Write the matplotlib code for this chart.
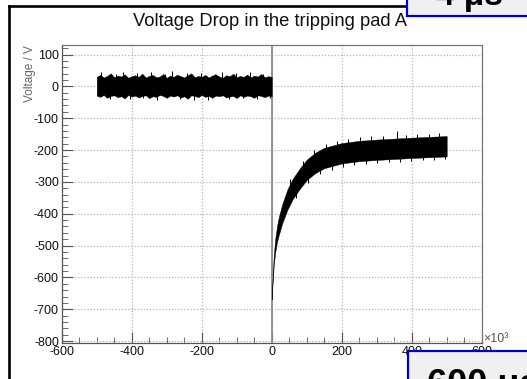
import matplotlib
matplotlib.use("Agg")
import matplotlib.pyplot as plt
import numpy as np
from matplotlib.patches import Rectangle
from matplotlib.lines import Line2D
from matplotlib.ticker import MultipleLocator

plt.rcParams['font.family'] = ['Liberation Sans', 'DejaVu Sans']
plt.rcParams['axes.unicode_minus'] = False

# time in units of 10^3, voltage in V
# before the trip: noisy baseline around 0 V, envelope every 10 units
pre_t = list(range(-500, 1, 10))
pre_hi = [30, 36, 28, 33, 41, 29, 34, 31, 38, 27, 32, 35, 30, 40, 28, 33, 36, 29, 31, 39,
          27, 34, 30, 37, 32, 28, 35, 41, 29, 33, 30, 36, 28, 34, 38, 31, 27, 35, 32, 40,
          29, 33, 30, 37, 28, 34, 31, 39, 29, 32, 30]
pre_lo = [-29, -33, -27, -36, -30, -28, -34, -31, -38, -27, -32, -29, -35, -30, -28, -37,
          -31, -33, -27, -30, -36, -29, -32, -28, -35, -31, -39, -28, -30, -34, -27, -33,
          -30, -36, -29, -31, -28, -35, -32, -30, -37, -28, -33, -29, -31, -36, -28, -30,
          -34, -29, -31]
pre_spike_t = [-487, -463, -444, -426, -404, -386, -367, -346, -327, -306, -284, -263, -243,
               -222, -203, -182, -161, -142, -121, -101, -83, -62, -43, -24, -6]
pre_spike_v = [44, -40, 39, 46, -41, 42, -38, 45, -43, 40, 47, -39, 43, -42, 41, -44, 38,
               45, -40, 42, -37, 44, -41, 39, -36]

# after the trip: drop and recovery towards about -190 V
post_t = [0, 3, 6, 10, 15, 20, 30, 45, 60, 80, 100, 125, 150, 200, 250, 300, 400, 500]
post_mid = [-665, -600, -545, -500, -465, -440, -400, -355, -322, -290, -262, -240, -225,
            -210, -203, -199, -193, -188]
post_half = [4, 10, 16, 21, 25, 28, 30, 32, 32, 32, 32, 32, 32, 32, 32, 32, 32, 32]
post_spike_t = [52, 70, 88, 105, 121, 138, 155, 171, 186, 203, 219, 236, 252, 268, 285, 301,
                318, 334, 357, 367, 383, 399, 416, 432, 448, 463, 478, 494]
post_spike_v = [-292, -352, -235, -302, -200, -275, -180, -262, -171, -252, -165, -247,
                -160, -243, -157, -241, -156, -238, -140, -236, -152, -234, -150, -232,
                -149, -230, -147, -229]

# fast transient at the trip instant
trip_t = 0
trip_span = [130, -806]

fig = plt.figure(figsize=(5.27, 3.79), dpi=100)
ax = fig.add_axes([61.7 / 527, 36 / 379, 420 / 527, 298 / 379])

ax.fill_between(pre_t, pre_lo, pre_hi, color='black', lw=0.3, edgecolor='black', zorder=3)
ax.vlines(pre_spike_t, 0, pre_spike_v, color='black', lw=0.7, zorder=3)

mid = np.array(post_mid)
half = np.array(post_half)
ax.fill_between(post_t, mid - half, mid + half, color='black', lw=0.3, edgecolor='black',
                zorder=3)
ax.vlines(post_spike_t, np.interp(post_spike_t, post_t, mid), post_spike_v,
          color='black', lw=0.7, zorder=3)

ax.plot([trip_t, trip_t], trip_span, color='#8a8a8a', lw=1.3, zorder=2)

ax.set_xlim(-600, 600)
ax.set_ylim(-806, 130)
ax.xaxis.set_major_locator(MultipleLocator(200))
ax.xaxis.set_minor_locator(MultipleLocator(50))
ax.yaxis.set_minor_locator(MultipleLocator(20))
ax.set_yticks(np.arange(-800, 101, 100))
ax.grid(True, which='major', ls=(0, (1, 1.5)), color='#b5b5b5', lw=0.9, zorder=1)
ax.tick_params(which='both', direction='in', color='#555555', labelcolor='#111111',
               top=False, right=False, labelsize=9, pad=2)
ax.tick_params(which='major', length=8)
ax.tick_params(which='minor', length=4)
for s in ax.spines.values():
    s.set_color('#777777')
    s.set_linewidth(0.9)
ax.spines['left'].set_color('#555555')
ax.spines['bottom'].set_color('#555555')

fig.text(270 / 527, 1 - 22 / 379, 'Voltage Drop in the tripping pad A',
         ha='center', va='center', fontsize=13.2, color='#111111')
fig.text(30 / 527, 1 - 45 / 379, 'Voltage / V', rotation=90, ha='center', va='top',
         fontsize=8.5, color='#666666')
fig.text(483 / 527, 1 - 339 / 379, '×10³', ha='left', va='center', fontsize=9,
         color='#555555')

# page border
fig.add_artist(Line2D([8.5 / 527, 8.5 / 527], [0, 1 - 6 / 379], color='black', lw=1.9,
                      transform=fig.transFigure))
fig.add_artist(Line2D([8.5 / 527, 1], [1 - 6 / 379, 1 - 6 / 379], color='black', lw=1.9,
                      transform=fig.transFigure))

# time scale boxes
top_box = Rectangle((407 / 527, 1 - 16 / 379), 0.3, 0.2, transform=fig.transFigure,
                    facecolor='#f0f0f0', edgecolor='#0000cc', lw=1.6, zorder=10)
fig.add_artist(top_box)
t1 = fig.text(436 / 527, 1 - 5 / 379, '4 μs', ha='left', va='baseline', fontsize=24,
              fontweight='bold', color='black', zorder=11)
t1.set_clip_path(top_box)

bot_box = Rectangle((408 / 527, -0.2), 0.3, 0.2 + 28 / 379, transform=fig.transFigure,
                    facecolor='#f0f0f0', edgecolor='#0000cc', lw=1.6, zorder=10)
fig.add_artist(bot_box)
t2 = fig.text(427 / 527, 1 - 368 / 379, '600 μs', ha='left', va='top', fontsize=26,
              fontweight='bold', color='black', zorder=11)
t2.set_clip_path(bot_box)

fig.savefig('out.png', dpi=100)
